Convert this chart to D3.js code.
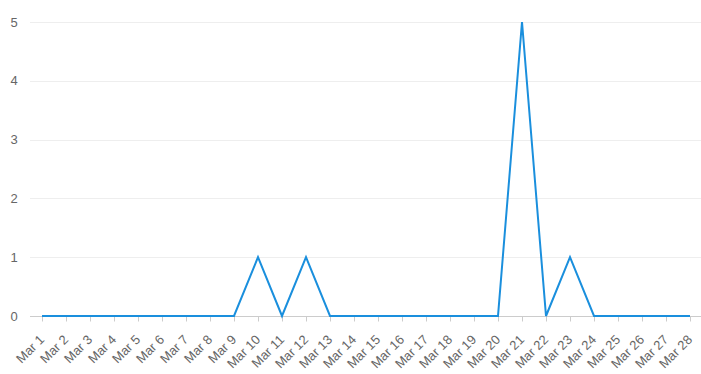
<!DOCTYPE html>
<html>
<head>
<meta charset="utf-8">
<script src="https://cdn.jsdelivr.net/npm/d3@7"></script>
<style>
  body { margin: 0; background: #fff; }
  text { font-family: "Liberation Sans", Arial, sans-serif; font-size: 13px; fill: #666; }
</style>
</head>
<body>
<div id="chart"></div>
<script>
// daily counts, Mar 1 .. Mar 28
var days = d3.range(1, 29).map(function(d) { return "Mar " + d; });
var counts = [0,0,0,0,0,0,0,0,0,1,0,1,0,0,0,0,0,0,0,0,5,0,1,0,0,0,0,0];
var yTicks = [0, 1, 2, 3, 4, 5];

var width = 701, height = 374;
var margin = { top: 22, right: 0, bottom: 58, left: 30 };

var svg = d3.select("#chart").append("svg")
    .attr("width", width)
    .attr("height", height);

var x = d3.scalePoint()
    .domain(days)
    .range([42, 690]);

var y = d3.scaleLinear()
    .domain([0, 5])
    .range([height - margin.bottom, margin.top]);

// gridlines
svg.selectAll(".grid")
    .data(yTicks.filter(function(t) { return t > 0; }))
    .enter().append("line")
    .attr("x1", margin.left).attr("x2", width)
    .attr("y1", function(d) { return Math.round(y(d)) + 0.5; })
    .attr("y2", function(d) { return Math.round(y(d)) + 0.5; })
    .attr("stroke", "#eeeeee")
    .attr("stroke-width", 1);

// y labels
svg.selectAll(".ylab")
    .data(yTicks)
    .enter().append("text")
    .attr("x", 14)
    .attr("y", function(d) { return y(d) + 4.5; })
    .attr("text-anchor", "middle")
    .text(function(d) { return d; });

// baseline
var base = Math.round(y(0)) + 0.5;
svg.append("line")
    .attr("x1", margin.left).attr("x2", width)
    .attr("y1", base).attr("y2", base)
    .attr("stroke", "#cccccc");

// tick marks
svg.selectAll(".tick")
    .data(days)
    .enter().append("line")
    .attr("x1", function(d) { return Math.round(x(d)) + 0.5; })
    .attr("x2", function(d) { return Math.round(x(d)) + 0.5; })
    .attr("y1", base).attr("y2", base + 5)
    .attr("stroke", "#cccccc");

// x labels, rotated
svg.selectAll(".xlab")
    .data(days)
    .enter().append("text")
    .attr("text-anchor", "end")
    .attr("transform", function(d) {
      return "translate(" + (x(d) + 3) + "," + (base + 24) + ") rotate(-45)";
    })
    .text(function(d) { return d; });

// line
var line = d3.line()
    .x(function(d, i) { return x(days[i]); })
    .y(function(d) { return y(d); });

svg.append("path")
    .datum(counts)
    .attr("d", line)
    .attr("fill", "none")
    .attr("stroke", "#1a8fdd")
    .attr("stroke-width", 2)
    .attr("stroke-linejoin", "miter");
</script>
</body>
</html>
